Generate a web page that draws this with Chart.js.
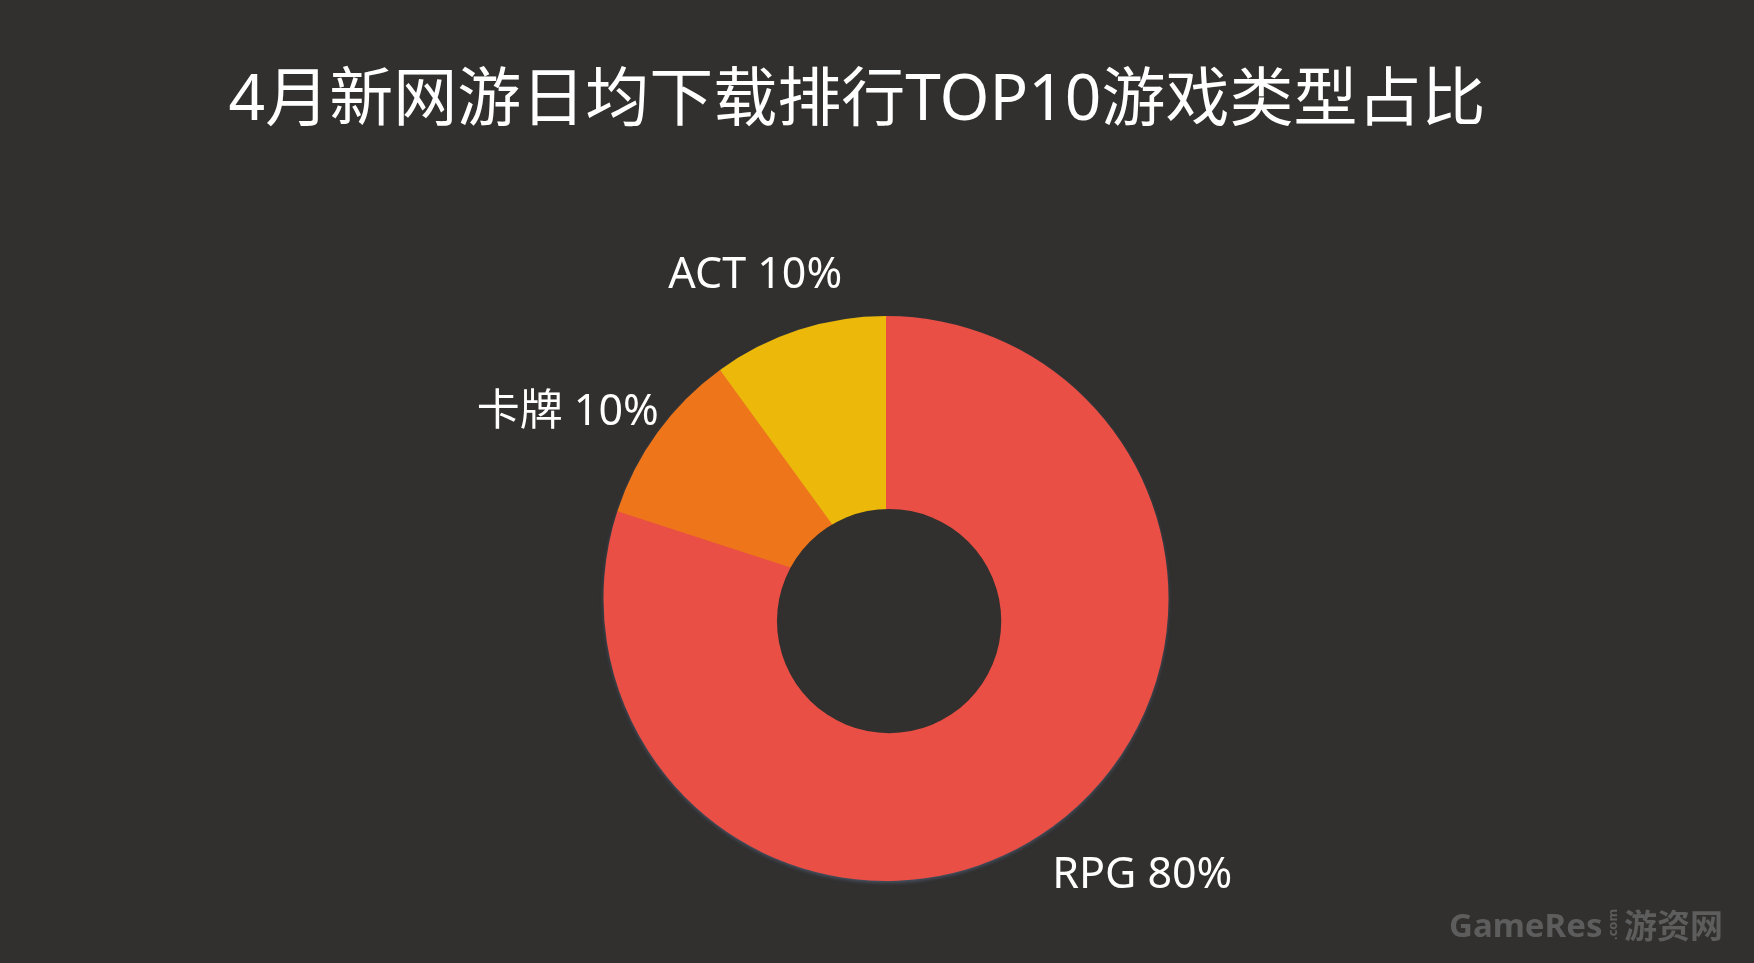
<!DOCTYPE html>
<html>
<head>
<meta charset="utf-8">
<script src="https://cdn.jsdelivr.net/npm/chart.js@4.4.1/dist/chart.umd.min.js"></script>
<style>
  html, body { margin: 0; padding: 0; background: #31302f; }
  #wrap { width: 1754px; height: 963px; position: relative; }
</style>
</head>
<body>
<div id="wrap"><canvas id="c" width="1754" height="963"></canvas></div>
<script>
const titleText = '4月新网游日均下载排行TOP10游戏类型占比';
const categories = ['RPG', '卡牌', 'ACT'];
const shares = [80, 10, 10];
const sliceColors = ['#E94F45', '#EE751A', '#ECB90A'];
const watermark = ['GameRes', '.com', '游资网'];

const BG = '#31302f';
// label nudges (px) relative to radial anchor at 1.2 × outer radius
const labelNudge = [[57, 1], [-44, 12], [-26, -2]];

const decor = {
  id: 'decor',
  beforeDatasetsDraw(chart) {
    const ctx = chart.ctx;
    const a0 = chart.getDatasetMeta(0).data[0];
    if (!a0) return;
    // soft bluish rim shadow behind the pie
    ctx.save();
    ctx.shadowColor = 'rgba(85,100,128,0.85)';
    ctx.shadowBlur = 4;
    ctx.shadowOffsetY = 2;
    ctx.fillStyle = sliceColors[0];
    ctx.beginPath();
    ctx.arc(a0.x, a0.y, a0.outerRadius - 1, 0, Math.PI * 2);
    ctx.fill();
    ctx.restore();
  },
  afterDatasetsDraw(chart) {
    const ctx = chart.ctx;
    const meta = chart.getDatasetMeta(0);
    const a0 = meta.data[0];
    const cx = a0.x, cy = a0.y, R = a0.outerRadius;
    // offset hole
    ctx.save();
    ctx.fillStyle = BG;
    ctx.beginPath();
    ctx.arc(cx + R * 0.011, cy + R * 0.08, R * 0.397, 0, Math.PI * 2);
    ctx.fill();
    ctx.restore();
    // labels
    ctx.save();
    ctx.fillStyle = '#ffffff';
    ctx.font = '43px "Noto Sans", "Noto Sans CJK SC", sans-serif';
    ctx.textAlign = 'center';
    ctx.textBaseline = 'middle';
    meta.data.forEach((arc, i) => {
      const mid = (arc.startAngle + arc.endAngle) / 2;
      const r = R * 1.2;
      const x = cx + Math.cos(mid) * r + labelNudge[i][0];
      const y = cy + Math.sin(mid) * r + labelNudge[i][1];
      ctx.fillText(categories[i] + ' ' + shares[i] + '%', x, y + 2);
    });
    ctx.restore();
  },
  afterDraw(chart) {
    const ctx = chart.ctx;
    ctx.save();
    // title
    ctx.fillStyle = '#ffffff';
    ctx.font = '64px "Noto Sans", "Noto Sans CJK SC", sans-serif';
    ctx.textAlign = 'center';
    ctx.textBaseline = 'alphabetic';
    ctx.fillText(titleText, 857, 120);
    // watermark
    ctx.fillStyle = '#5d5d5d';
    ctx.textAlign = 'left';
    ctx.font = 'bold 33px "Noto Sans", sans-serif';
    ctx.fillText(watermark[0], 1449, 937);
    const w0 = ctx.measureText(watermark[0]).width;
    ctx.save();
    ctx.translate(1449 + w0 + 15, 940);
    ctx.rotate(-Math.PI / 2);
    ctx.font = 'bold 13px "Noto Sans", sans-serif';
    ctx.fillText(watermark[1], 0, 0);
    ctx.restore();
    ctx.font = 'bold 33px "Noto Sans CJK SC", sans-serif';
    ctx.fillText(watermark[2], 1624, 938);
    ctx.restore();
  }
};

new Chart(document.getElementById('c'), {
  type: 'pie',
  data: {
    labels: categories,
    datasets: [{
      data: shares,
      backgroundColor: sliceColors,
      borderWidth: 0,
      hoverOffset: 0
    }]
  },
  options: {
    responsive: false,
    animation: false,
    layout: { padding: { top: 316, bottom: 82, left: 18, right: 0 } },
    plugins: {
      legend: { display: false },
      tooltip: { enabled: false },
      title: { display: false }
    }
  },
  plugins: [decor]
});
</script>
</body>
</html>
